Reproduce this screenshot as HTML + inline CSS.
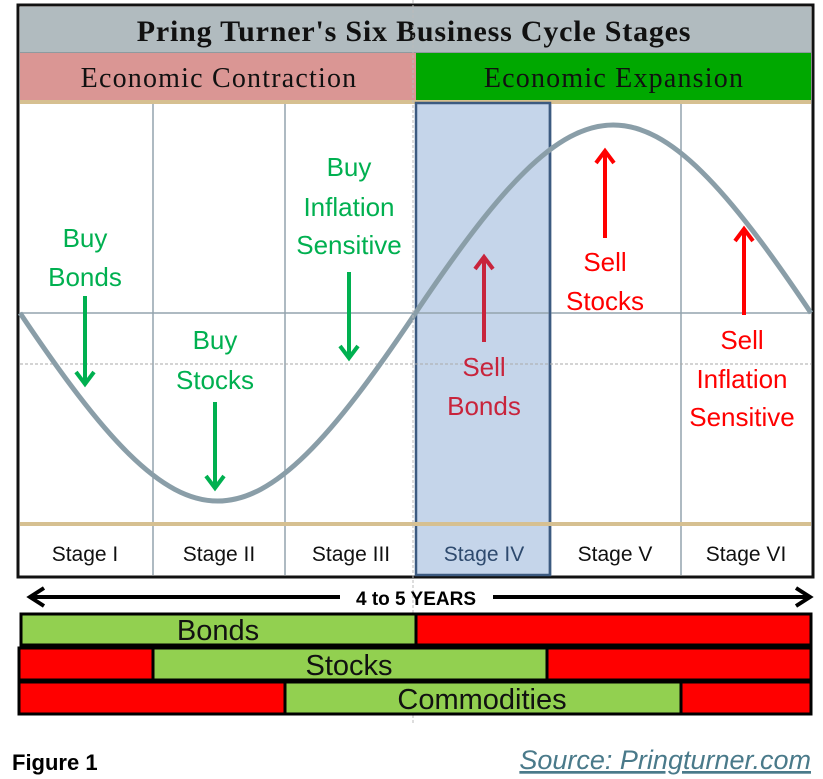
<!DOCTYPE html>
<html><head><meta charset="utf-8"><style>
body{margin:0;background:#fff;width:823px;height:779px;overflow:hidden}
svg{display:block}
.s{font-family:"Liberation Serif",serif}
.c{font-family:"Liberation Sans",sans-serif}
</style></head><body>
<svg width="823" height="779" viewBox="0 0 823 779">
<rect x="18" y="5" width="795" height="572" fill="#fff" stroke="#111" stroke-width="3"/>
<rect x="20" y="7" width="791" height="45" fill="#b1bbbf"/>
<text x="414" y="41" text-anchor="middle" class="s" font-size="30" font-weight="bold" letter-spacing="0.8" fill="#111">Pring Turner's Six Business Cycle Stages</text>
<line x1="20" y1="52.5" x2="811" y2="52.5" stroke="#8f9a9f" stroke-width="1"/>
<rect x="20" y="53" width="396" height="47" fill="#da9694"/>
<rect x="416" y="53" width="395" height="47" fill="#00a800"/>
<text x="219" y="87" text-anchor="middle" class="s" font-size="28" letter-spacing="1.2" fill="#111">Economic Contraction</text>
<text x="614" y="87" text-anchor="middle" class="s" font-size="28" letter-spacing="1.2" fill="#111">Economic Expansion</text>
<rect x="20" y="100" width="791" height="4" fill="#d6c091"/>
<rect x="416" y="103" width="134" height="472" fill="#c5d5ea" stroke="#3c5a80" stroke-width="2.5"/>
<g stroke="#94a3ad" stroke-width="1.5">
<line x1="153" y1="104" x2="153" y2="575"/><line x1="285" y1="104" x2="285" y2="575"/>
<line x1="681" y1="104" x2="681" y2="575"/>
<line x1="20" y1="313" x2="811" y2="313"/>
</g>
<line x1="550" y1="104" x2="550" y2="575" stroke="#3c5a80" stroke-width="2.5"/>
<line x1="20" y1="364" x2="811" y2="364" stroke="#aaa" stroke-width="1" stroke-dasharray="3,2"/>
<rect x="20" y="522" width="791" height="4" fill="#d6c091"/>
<path d="M20,313 C187.9,563.7 247.6,563.7 415.5,313 C583.4,62.3 643.1,62.3 811,313" fill="none" stroke="#8a9ea8" stroke-width="5"/>
<line x1="413" y1="0" x2="413" y2="725" stroke="#bbb" stroke-width="1" stroke-dasharray="3,2"/>
<g class="c" font-size="21" text-anchor="middle" fill="#111">
<text x="85" y="561">Stage I</text><text x="219" y="561">Stage II</text><text x="351" y="561">Stage III</text>
<text x="484" y="561" fill="#2e4a6e">Stage IV</text><text x="615" y="561">Stage V</text><text x="746" y="561">Stage VI</text>
</g>
<g class="c" font-size="26" text-anchor="middle" fill="#00b050">
<text x="85" y="247">Buy</text><text x="85" y="286">Bonds</text>
<text x="215" y="349">Buy</text><text x="215" y="389">Stocks</text>
<text x="349" y="176">Buy</text><text x="349" y="216">Inflation</text><text x="349" y="254">Sensitive</text>
</g>
<g stroke="#00b050" stroke-width="4" fill="none">
<line x1="85" y1="296" x2="85" y2="384"/><path d="M76,372 L85,384 L94,372"/>
<line x1="215" y1="402" x2="215" y2="488"/><path d="M206,476 L215,488 L224,476"/>
<line x1="349" y1="272" x2="349" y2="358"/><path d="M340,346 L349,358 L358,346"/>
</g>
<g class="c" font-size="26" text-anchor="middle">
<text x="484" y="376" fill="#c8243c">Sell</text><text x="484" y="415" fill="#c8243c">Bonds</text>
<text x="605" y="271" fill="#f00">Sell</text><text x="605" y="310" fill="#f00">Stocks</text>
<text x="742" y="349" fill="#f00">Sell</text><text x="742" y="388" fill="#f00">Inflation</text><text x="742" y="426" fill="#f00">Sensitive</text>
</g>
<g stroke-width="4" fill="none">
<g stroke="#c8243c"><line x1="484" y1="342" x2="484" y2="257"/><path d="M475,269 L484,257 L493,269"/></g>
<g stroke="#f00"><line x1="605" y1="238" x2="605" y2="151"/><path d="M596,163 L605,151 L614,163"/>
<line x1="744" y1="315" x2="744" y2="229"/><path d="M735,241 L744,229 L753,241"/></g>
</g>
<g stroke="#000" stroke-width="4" fill="none">
<line x1="30" y1="597" x2="340" y2="597"/><path d="M44,588 L30,597 L44,606"/>
<line x1="493" y1="597" x2="810" y2="597"/><path d="M796,588 L810,597 L796,606"/>
</g>
<text x="416" y="605" text-anchor="middle" class="c" font-size="19" font-weight="bold">4 to 5 YEARS</text>
<g stroke="#000" stroke-width="3">
<rect x="21" y="614" width="395" height="31" fill="#92d050"/>
<rect x="416" y="614" width="395" height="31" fill="#f00"/>
<rect x="19" y="648" width="134" height="32" fill="#f00"/>
<rect x="153" y="648" width="394" height="32" fill="#92d050"/>
<rect x="547" y="648" width="264" height="32" fill="#f00"/>
<rect x="19" y="682" width="266" height="32" fill="#f00"/>
<rect x="285" y="682" width="396" height="32" fill="#92d050"/>
<rect x="681" y="682" width="130" height="32" fill="#f00"/>
</g>
<g class="c" font-size="29" text-anchor="middle" fill="#111">
<text x="218" y="640">Bonds</text><text x="349" y="675">Stocks</text><text x="482" y="709">Commodities</text>
</g>
<text x="12" y="770" class="c" font-size="22" font-weight="bold">Figure 1</text>
<text x="811" y="769" text-anchor="end" class="c" font-size="27" font-style="italic" fill="#4a7a8a" text-decoration="underline">Source: Pringturner.com</text>
</svg>
</body></html>
